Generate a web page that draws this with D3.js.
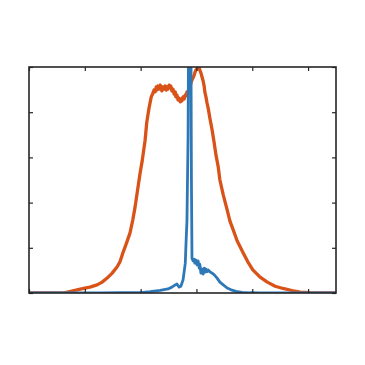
<!DOCTYPE html>
<html>
<head>
<meta charset="utf-8">
<script src="https://cdn.jsdelivr.net/npm/d3@7"></script>
<style>
  body { margin: 0; background: #fff; }
  svg { display: block; }
</style>
</head>
<body>
<svg width="365" height="365"></svg>
<script>
// data (x in axis units, y in axis units)
var xTicks = [0, 1, 2, 3, 4, 5];
var yTicks = [0, 1, 2, 3, 4, 5];

var orangeX = [0.00, 0.30, 0.61, 0.73, 0.88, 1.00, 1.09, 1.22, 1.31, 1.40, 1.49, 1.58, 1.63, 1.68, 1.74, 1.81, 1.86, 1.90, 1.95, 1.99, 2.03, 2.08, 2.11, 2.15, 2.19, 2.22,
  2.24, 2.26, 2.28, 2.29, 2.31, 2.33, 2.35, 2.37, 2.38, 2.40, 2.42, 2.44, 2.46, 2.47, 2.49, 2.51, 2.53, 2.54, 2.56, 2.58, 2.60, 2.62, 2.63, 2.65, 2.67, 2.69,
  2.71, 2.72, 2.74, 2.76, 2.78, 2.80, 2.81, 2.83, 2.85, 2.87, 2.89, 2.90, 2.92, 2.94, 2.96, 2.97, 2.99, 3.01, 3.03, 3.05, 3.06, 3.08, 3.10, 3.12, 3.14, 3.15,
  3.17, 3.19, 3.21, 3.24, 3.28, 3.32, 3.35, 3.39, 3.42, 3.48, 3.55, 3.60, 3.66, 3.73, 3.84, 3.92, 4.01, 4.14, 4.27, 4.41, 4.55, 4.71, 4.86, 5.04, 5.22, 5.50];
var orangeY = [0, 0, 0, 0.033, 0.077, 0.11, 0.13, 0.18, 0.24, 0.33, 0.44, 0.58, 0.69, 0.88, 1.08, 1.33, 1.62, 1.90, 2.32, 2.65, 2.94, 3.38, 3.78, 4.09, 4.34, 4.42,
  4.49, 4.45, 4.56, 4.49, 4.58, 4.51, 4.60, 4.54, 4.47, 4.56, 4.51, 4.58, 4.49, 4.56, 4.51, 4.60, 4.54, 4.58, 4.47, 4.51, 4.40, 4.45, 4.34, 4.38, 4.27, 4.31,
  4.23, 4.29, 4.25, 4.34, 4.29, 4.38, 4.36, 4.45, 4.42, 4.54, 4.58, 4.65, 4.71, 4.76, 4.82, 4.87, 4.93, 4.96, 5.00, 4.98, 4.93, 4.87, 4.78, 4.69, 4.56, 4.45,
  4.34, 4.20, 4.09, 3.87, 3.61, 3.30, 3.05, 2.79, 2.50, 2.17, 1.84, 1.59, 1.39, 1.15, 0.88, 0.69, 0.51, 0.35, 0.24, 0.15, 0.10, 0.055, 0.02, 0.007, 0, 0];

var blueX = [0.00, 1.27, 1.63, 1.99, 2.17, 2.35, 2.49, 2.56, 2.62, 2.65, 2.69, 2.72, 2.76, 2.80, 2.81, 2.83, 2.85, 2.86, 2.90, 2.91, 2.92,
  2.94, 2.96, 2.97, 2.99, 3.01, 3.03, 3.05, 3.06, 3.08, 3.10, 3.12, 3.14, 3.15, 3.17, 3.19, 3.21, 3.24, 3.28, 3.32, 3.37, 3.42, 3.48, 3.55, 3.62,
  3.71, 3.82, 3.96, 4.14, 5.50];
var blueY = [0, 0, 0.005, 0.01, 0.03, 0.06, 0.09, 0.13, 0.18, 0.20, 0.13, 0.15, 0.29, 0.66, 1.0, 1.6, 3.5, 6.0, 6.0, 2.5, 0.77,
  0.71, 0.75, 0.66, 0.73, 0.62, 0.71, 0.55, 0.64, 0.44, 0.53, 0.42, 0.55, 0.46, 0.53, 0.47, 0.51, 0.47, 0.44, 0.40, 0.33, 0.24, 0.18, 0.11, 0.07,
  0.035, 0.015, 0.005, 0, 0];

var svg = d3.select('svg');
var plotLeft = 29, plotRight = 336, plotTop = 67, plotBottom = 293;

var xScale = d3.scaleLinear().domain([0, 5.5]).range([plotLeft, plotRight]);
var yScale = d3.scaleLinear().domain([0, 5]).range([plotBottom, plotTop]);

svg.append('defs').append('clipPath').attr('id', 'plotclip')
  .append('rect')
  .attr('x', plotLeft).attr('y', plotTop)
  .attr('width', plotRight - plotLeft).attr('height', plotBottom - plotTop);

var line = d3.line()
  .x(function(d) { return xScale(d[0]); })
  .y(function(d) { return yScale(d[1]); });

var orange = orangeX.map(function(x, i) { return [x, orangeY[i]]; });
var blue = blueX.map(function(x, i) { return [x, blueY[i]]; });

var g = svg.append('g').attr('clip-path', 'url(#plotclip)');
g.append('path')
  .datum(orange)
  .attr('d', line)
  .attr('fill', 'none')
  .attr('stroke', '#D95319')
  .attr('stroke-width', 3.3)
  .attr('stroke-linejoin', 'round');
g.append('path')
  .datum(blue)
  .attr('d', line)
  .attr('fill', 'none')
  .attr('stroke', '#2f78b8')
  .attr('stroke-width', 2.8)
  .attr('stroke-linejoin', 'round');

// axes with inward ticks, no labels
var axColor = '#262626';
svg.append('g').attr('transform', 'translate(0,' + plotBottom + ')')
  .call(d3.axisBottom(xScale).tickValues(xTicks).tickSize(-4).tickFormat(''));
svg.append('g').attr('transform', 'translate(0,' + plotTop + ')')
  .call(d3.axisTop(xScale).tickValues(xTicks).tickSize(-4).tickFormat(''));
svg.append('g').attr('transform', 'translate(' + plotLeft + ',0)')
  .call(d3.axisLeft(yScale).tickValues(yTicks).tickSize(-4).tickFormat(''));
svg.append('g').attr('transform', 'translate(' + plotRight + ',0)')
  .call(d3.axisRight(yScale).tickValues(yTicks).tickSize(-4).tickFormat(''));

svg.selectAll('.domain').remove();
svg.selectAll('.tick line').attr('stroke', axColor).attr('stroke-width', 1.2);

svg.append('rect')
  .attr('x', plotLeft).attr('y', plotTop)
  .attr('width', plotRight - plotLeft).attr('height', plotBottom - plotTop)
  .attr('fill', 'none')
  .attr('stroke', axColor)
  .attr('stroke-width', 1.6);
</script>
</body>
</html>
